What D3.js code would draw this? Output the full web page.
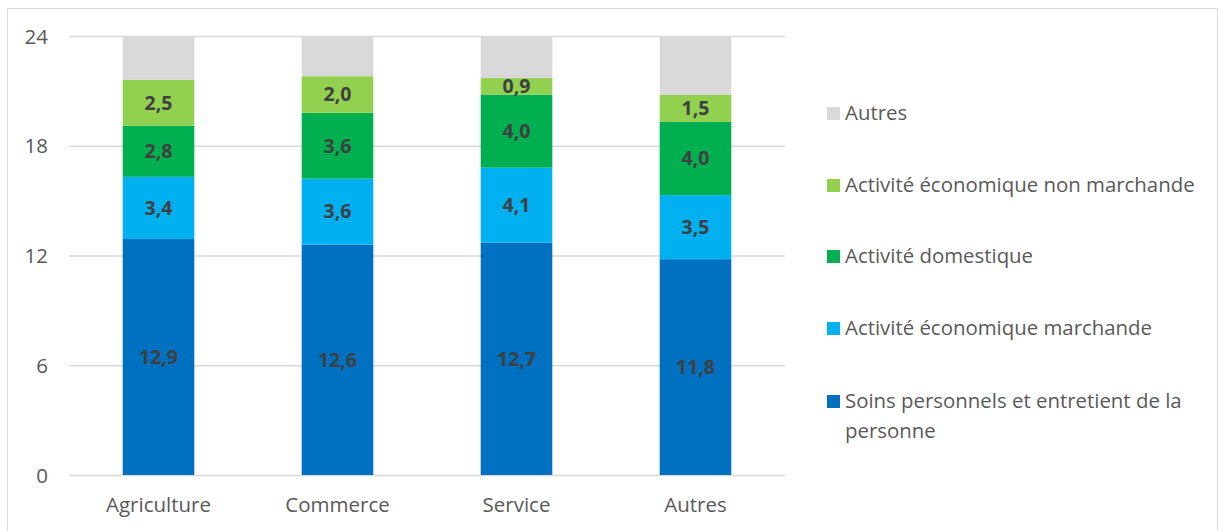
<!DOCTYPE html>
<html><head><meta charset="utf-8">
<script src="https://cdn.jsdelivr.net/npm/d3@7"></script>
<style>body{margin:0;background:#fff}svg{display:block}</style>
</head><body><svg id="c" width="1219" height="531"></svg>
<script>
const categories = ["Agriculture","Commerce","Service","Autres"];
const seriesNames = ["Soins personnels et entretient de la personne","Activité économique marchande","Activité domestique","Activité économique non marchande","Autres"];
const soins = [12.9,12.6,12.7,11.8];
const marchande = [3.4,3.6,4.1,3.5];
const domestique = [2.8,3.6,4.0,4.0];
const nonMarchande = [2.5,2.0,0.9,1.5];
const autres = [2.4,2.2,2.3,3.2];
const yTicks = [0,6,12,18,24];
const colors = ["#0070C0","#00B0F0","#00B050","#92D050","#D9D9D9"];

const svg = d3.select("#c");
const font = "'Open Sans', sans-serif";
svg.append("rect").attr("x",7.5).attr("y",8.5).attr("width",1210).attr("height",530).attr("fill","none").attr("stroke","#d9d9d9");

const x = d3.scaleBand().domain(categories).range([69,785]).paddingInner(0.6).paddingOuter(0.3);
const y = d3.scaleLinear().domain([0,24]).range([475,36]);

const rows = categories.map((c,i)=>({cat:c, s0:soins[i], s1:marchande[i], s2:domestique[i], s3:nonMarchande[i], s4:autres[i]}));
const stack = d3.stack().keys(["s0","s1","s2","s3","s4"]);
const layers = stack(rows);

svg.append("g").selectAll("line").data(yTicks).join("line")
  .attr("x1",69).attr("x2",785).attr("y1",d=>y(d)+0.5).attr("y2",d=>y(d)+0.5)
  .attr("stroke","#d9d9d9").attr("stroke-width",1.5);

const yAxis = d3.axisLeft(y).tickValues(yTicks).tickSize(0).tickPadding(0);
const gy = svg.append("g").attr("transform","translate(48,0)").call(yAxis);
gy.select(".domain").remove();
gy.selectAll("text").attr("font-family",font).attr("font-size",20.5).attr("fill","#595959").attr("dy","0.35em");

const xAxis = d3.axisBottom(x).tickSize(0).tickPadding(0);
const gx = svg.append("g").attr("transform","translate(0,505)").call(xAxis);
gx.select(".domain").remove();
gx.selectAll("text").attr("font-family",font).attr("font-size",20.5).attr("fill","#595959").attr("dy","0.35em");

layers.forEach((layer,li)=>{
  const g = svg.append("g");
  g.selectAll("rect").data(layer).join("rect")
    .attr("x",d=>x(d.data.cat)).attr("width",x.bandwidth())
    .attr("y",d=>y(d[1])).attr("height",d=>y(d[0])-y(d[1]))
    .attr("fill",colors[li]);
  if(li<4){
    g.selectAll("text").data(layer).join("text")
      .attr("x",d=>x(d.data.cat)+x.bandwidth()/2).attr("y",d=>y((d[0]+d[1])/2))
      .attr("dy","0.35em").attr("text-anchor","middle")
      .attr("font-family",font).attr("font-size",19.5).attr("font-weight","bold").attr("fill","#404040")
      .text(d=>d3.format(".1f")(d[1]-d[0]).replace(".",","));
  }
});

const legendY = [113,185,256,328,401];
const order = [4,3,2,1,0];
const lg = svg.append("g");
order.forEach((si,k)=>{
  lg.append("rect").attr("x",827).attr("y",legendY[k]-6).attr("width",13).attr("height",13).attr("fill",colors[si]);
  const t = lg.append("text").attr("x",845).attr("y",legendY[k]).attr("dy","0.35em")
    .attr("font-family",font).attr("font-size",20.4).attr("fill","#595959");
  if(si===0){
    t.text("Soins personnels et entretient de la");
    lg.append("text").attr("x",845).attr("y",legendY[k]+30).attr("dy","0.35em")
      .attr("font-family",font).attr("font-size",20.4).attr("fill","#595959").text("personne");
  } else t.text(seriesNames[si]);
});
</script></body></html>
